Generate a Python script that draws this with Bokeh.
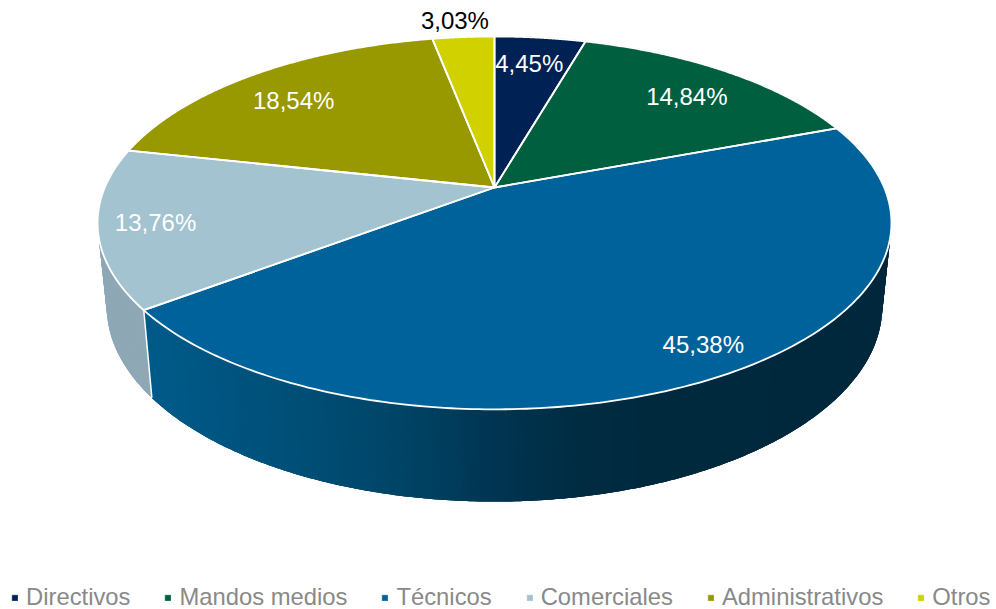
import numpy as np
from bokeh.plotting import figure
from bokeh.models import ColumnDataSource, Legend, LegendItem, Range1d
from bokeh.core.properties import value
from bokeh.embed import file_html
from bokeh.resources import INLINE

categories = ["Directivos", "Mandos medios", "Técnicos", "Comerciales", "Administrativos", "Otros"]
shares = [4.45, 14.84, 45.38, 13.76, 18.54, 3.03]
colors = ["#002154", "#005f3f", "#00629a", "#a3c3d1", "#989800", "#d1d100"]
side_colors = [None, None, None, "#8ea8b6", None, None]
label_colors = ["white", "white", "white", "white", "white", "black"]

# layout of the perspective pie, in page pixels
CX, CY, PERSP = 494.0, 187.0, 0.19
TOP_A, TOP_B = 179.7, 389.7
BOT_Y, BOT_A, BOT_B = 269.0, 188.0, 380.7
label_r = [0.80, 0.763, 0.856, 0.874, 0.744, 1.134]
label_dx = [-3, 10, 21, 6, -17, -5]

grad_x = [140, 300, 400, 500, 580, 650, 900]
grad_rgb = [(0, 91, 138), (0, 78, 118), (0, 68, 102), (0, 52, 80), (0, 44, 66), (0, 41, 62), (0, 40, 60)]


def top_xy(theta, r=1.0):
    s, c = np.sin(theta), np.cos(theta)
    d = 1 + PERSP * r * c
    return CX + TOP_B * r * s / d, CY - TOP_A * r * c / d


def bot_xy(theta):
    s, c = np.sin(theta), np.cos(theta)
    d = 1 + PERSP * c
    return CX + BOT_B * s / d, BOT_Y - BOT_A * c / d


def grad(x):
    ch = [np.interp(x, grad_x, [g[i] for g in grad_rgb]) for i in range(3)]
    return "#%02x%02x%02x" % tuple(int(round(v)) for v in ch)


p = figure(width=996, height=609, output_backend="svg", toolbar_location=None,
           x_range=Range1d(0, 996), y_range=Range1d(609, 0), min_border=0,
           outline_line_color=None, background_fill_color="white", border_fill_color="white")
p.axis.visible = False
p.grid.visible = False

edges = 2 * np.pi * np.cumsum([0] + shares) / sum(shares)
edges[-1] = 2 * np.pi

# side wall: Comerciales, then Técnicos on top of it; each band overlaps the next
for i in (3, 2):
    ts = np.arange(edges[i], edges[i + 1], np.radians(0.5))
    ts = np.append(ts, edges[i + 1])
    xs, ys, cs = [], [], []
    for k in range(len(ts) - 1):
        a = ts[k]
        end = ts[min(k + 3, len(ts) - 1)]
        arc = np.linspace(a, end, 4)
        tx, ty = top_xy(arc)
        bx, by = bot_xy(arc[::-1])
        xs.append(np.concatenate([tx, bx]))
        ys.append(np.concatenate([ty, by]))
        cs.append(side_colors[i] or grad((tx[0] + top_xy(ts[k + 1])[0]) / 2))
    p.patches(xs, ys, fill_color=cs, line_color=None)

# white edge between the two walls
e = edges[3]
p.line([top_xy(e)[0], bot_xy(e)[0]], [top_xy(e)[1], bot_xy(e)[1]], line_color="white", line_width=1.5)

# top face
items = []
for i, name in enumerate(categories):
    ts = np.linspace(edges[i], edges[i + 1], 200)
    x, y = top_xy(ts)
    px = np.concatenate([[CX], x])
    py = np.concatenate([[CY], y])
    r = p.patch(px, py, fill_color=colors[i], line_color=colors[i], line_width=0.5)
    items.append(LegendItem(label=name, renderers=[r]))

for i in range(len(categories)):
    ts = np.linspace(edges[i], edges[i + 1], 200)
    x, y = top_xy(ts)
    p.line(np.concatenate([[CX], x, [CX]]), np.concatenate([[CY], y, [CY]]),
           line_color="white", line_width=1.8, line_join="round")

# data labels
mid = (edges[:-1] + edges[1:]) / 2
lx, ly = top_xy(mid, np.array(label_r))
src = ColumnDataSource(dict(x=lx, y=ly, t=[f"{v:.2f}%".replace(".", ",") for v in shares],
                            c=label_colors, dx=label_dx))
p.text("x", "y", text="t", source=src, text_color="c", x_offset="dx",
       text_font=value("Liberation Sans"), text_font_size="24px",
       text_align="center", text_baseline="middle")

legend = Legend(items=items, orientation="horizontal", location=(11, -2),
                glyph_width=7, glyph_height=7, label_standoff=8, spacing=34,
                padding=0, margin=0, border_line_color=None, background_fill_alpha=0,
                label_text_font="Liberation Sans", label_text_font_size="23.8px",
                label_text_color="#898989", label_text_baseline="middle",
                label_height=24)
p.add_layout(legend, "center")

open("out.html", "w").write(file_html(p, INLINE))
